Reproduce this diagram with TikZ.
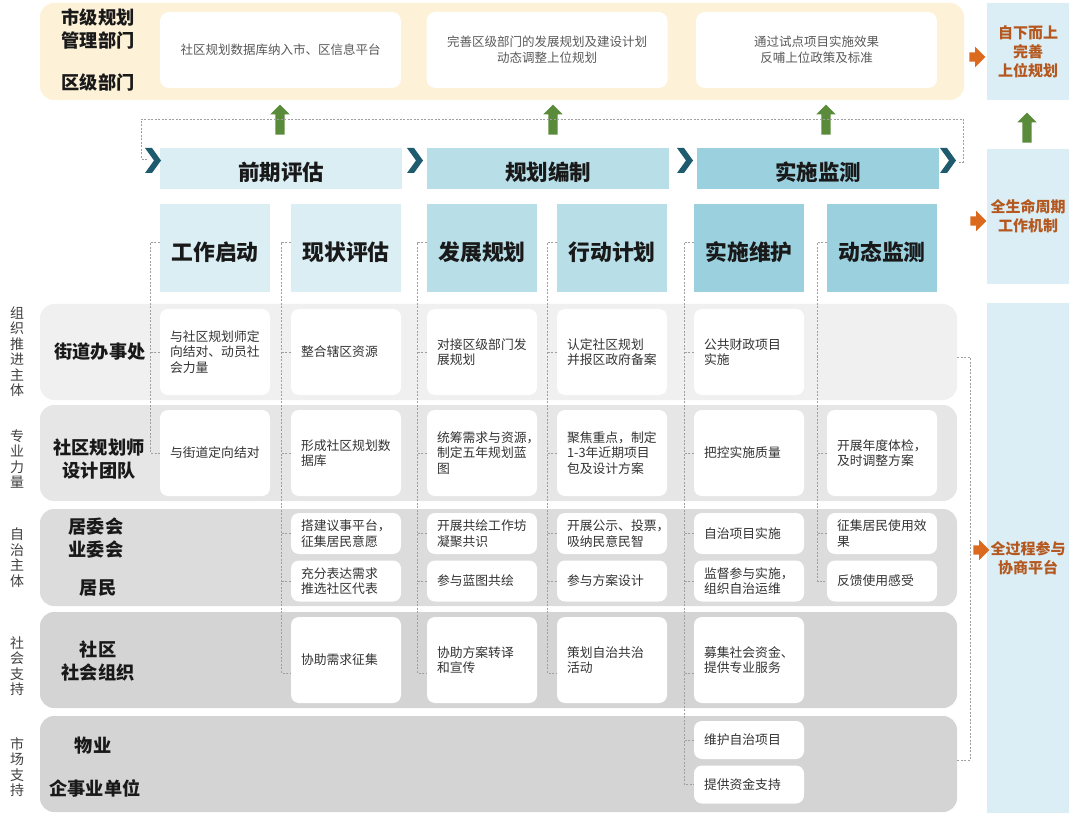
\documentclass[tikz,border=0pt]{standalone}
\usepackage{fontspec}
\setmainfont{Noto Sans CJK SC}
\usetikzlibrary{shapes.arrows}
\definecolor{yellowbg}{HTML}{FDF1D8}
\definecolor{blueA}{HTML}{DAEEF4}
\definecolor{blueB}{HTML}{B8DEE8}
\definecolor{blueC}{HTML}{9BD0DF}
\definecolor{sidebg}{HTML}{DCEEF5}
\definecolor{rowA}{HTML}{F0F0F0}
\definecolor{rowB}{HTML}{E6E6E6}
\definecolor{rowC}{HTML}{DCDCDC}
\definecolor{rowD}{HTML}{D4D4D4}
\definecolor{chev}{HTML}{1E5B6E}
\definecolor{leaf}{HTML}{5A8B3B}
\definecolor{amber}{HTML}{DB6A1F}
\definecolor{rust}{HTML}{B4581F}
\begin{document}
\begin{tikzpicture}[x=1pt,y=-1pt]
        \tikzset{cell/.style = {fill=white, rounded corners=8pt, minimum height=86pt, inner xsep=10pt, text width=90pt, align=left, font=\fontsize{12.8}{15.5}\selectfont, text=black!80}};
        \tikzset{half/.style = {cell, minimum height=41pt}};
        \tikzset{topbox/.style = {fill=white, rounded corners=9pt, minimum width=241pt, minimum height=76pt, align=center, font=\fontsize{12.5}{16}\selectfont, text=black!65}};
        \tikzset{phase/.style = {minimum width=242pt, minimum height=41pt, text height=27pt, text depth=2pt, font=\fontsize{21.5}{24}\selectfont\bfseries, text=black!90}};
        \tikzset{stage/.style = {minimum width=110pt, minimum height=88pt, text height=27pt, text depth=2pt, font=\fontsize{21.8}{24}\selectfont\bfseries, text=black!90}};
        \tikzset{band/.style = {rounded corners=14pt, minimum width=917pt, minimum height=96pt}};
        \tikzset{lead/.style = {align=center, font=\fontsize{18.2}{23}\selectfont\bfseries, text=black!90}};
        \tikzset{tag/.style = {align=center, font=\fontsize{14}{15.5}\selectfont, text=black!75}};
        \tikzset{side/.style = {fill=sidebg, minimum width=82pt, align=center, font=\fontsize{15}{19}\selectfont\bfseries, text=rust}};
        \tikzset{lift/.style = {single arrow, fill=leaf, rotate=90, inner sep=4.5pt, minimum height=30pt, single arrow head extend=5pt}};
        \tikzset{push/.style = {single arrow, fill=amber, inner sep=4.5pt, minimum height=16pt, single arrow head extend=5.5pt}};
        \tikzset{guide/.style = {draw=gray!75, dash pattern=on 2pt off 1.5pt, line width=0.7pt}};
        \useasboundingbox (0,0) rectangle (1080,813);
        \node[fill=yellowbg, rounded corners=14pt, minimum width=924pt, minimum height=97pt] (upper) at (502,51.5) {};
        \node[lead] (city) at (98,28.5) {市级规划\\管理部门};
        \node[lead] (district) at (98,83) {区级部门};
        \node[topbox] (feed1) at (280.5,50) {社区规划数据库纳入市、区信息平台};
        \node[topbox] (feed2) at (547,50) {完善区级部门的发展规划及建设计划\\动态调整上位规划};
        \node[topbox] (feed3) at (816.5,50) {通过试点项目实施效果\\反哺上位政策及标准};
        \node[side, minimum height=97pt] (goal1) at (1028,51.5) {自下而上\\完善\\上位规划};
        \node[side, minimum height=135pt] (goal2) at (1028,216.5) {全生命周期\\工作机制};
        \node[side, minimum height=510pt] (goal3) at (1028,558) {全过程参与\\协商平台};
        \node[push] (to1) at (975,57) {};
        \node[push] (to2) at (976,221) {};
        \node[push] (to3) at (979,550) {};
        \node[lift] (up1) at (280,122) {};
        \node[lift] (up2) at (553,122) {};
        \node[lift] (up3) at (826,122) {};
        \node[lift] (up4) at (1027,130) {};
        \node[phase, fill=blueA] (pre) at (281,168.5) {前期评估};
        \node[phase, fill=blueB] (plan) at (548,168.5) {规划编制};
        \node[phase, fill=blueC] (impl) at (818,168.5) {实施监测};
        \fill[chev] (145,148) -- (152,148) -- (161,160.5) -- (152,173) -- (145,173) -- (154,160.5) -- cycle;
        \fill[chev] (407,148) -- (414,148) -- (423,160.5) -- (414,173) -- (407,173) -- (416,160.5) -- cycle;
        \fill[chev] (677,148) -- (684,148) -- (693,160.5) -- (684,173) -- (677,173) -- (686,160.5) -- cycle;
        \fill[chev] (940,148) -- (947,148) -- (956,160.5) -- (947,173) -- (940,173) -- (949,160.5) -- cycle;
        \coordinate (loopL) at (147,159);
        \coordinate (loopR) at (958,162);
        \draw[guide] (loopL) -| (141,119) -| (963,162) -- (loopR);
        \node[stage, fill=blueA] (w1) at (215,248) {工作启动};
        \node[stage, fill=blueA] (w2) at (346,248) {现状评估};
        \node[stage, fill=blueB] (w3) at (482,248) {发展规划};
        \node[stage, fill=blueB] (w4) at (612,248) {行动计划};
        \node[stage, fill=blueC] (w5) at (749,248) {实施维护};
        \node[stage, fill=blueC] (w6) at (882,248) {动态监测};
        \node[band, fill=rowA] (row1) at (498.5,352) {};
        \node[band, fill=rowB] (row2) at (498.5,453) {};
        \node[band, fill=rowC, minimum height=97pt] (row3) at (498.5,557.5) {};
        \node[band, fill=rowD] (row4) at (498.5,660) {};
        \node[band, fill=rowD] (row5) at (498.5,764) {};
        \node[tag] (t1) at (17,351.5) {组\\织\\推\\进\\主\\体};
        \node[tag] (t2) at (17,459) {专\\业\\力\\量};
        \node[tag] (t3) at (17,557.5) {自\\治\\主\\体};
        \node[tag] (t4) at (17,666) {社\\会\\支\\持};
        \node[tag] (t5) at (17,767) {市\\场\\支\\持};
        \node[lead] (street) at (100,352) {街道办事处};
        \node[lead] (planner) at (99,459) {社区规划师\\设计团队};
        \node[lead] (committee) at (96,538.5) {居委会\\业委会};
        \node[lead] (resident) at (98,588) {居民};
        \node[lead] (social) at (98,661) {社区\\社会组织};
        \node[lead] (estate) at (93,746) {物业};
        \node[lead] (firm) at (95,788) {企事业单位};
        \node[cell] (a1) at (215,352) {与社区规划师定\\向结对、动员社\\会力量};
        \node[cell] (a2) at (346,352) {整合辖区资源};
        \node[cell] (a3) at (482,352) {对接区级部门发\\展规划};
        \node[cell] (a4) at (612,352) {认定社区规划\\并报区政府备案};
        \node[cell] (a5) at (749,352) {公共财政项目\\实施};
        \node[cell] (b1) at (215,453) {与街道定向结对};
        \node[cell] (b2) at (346,453) {形成社区规划数\\据库};
        \node[cell] (b3) at (482,453) {统筹需求与资源，\\制定五年规划蓝\\图};
        \node[cell] (b4) at (612,453) {聚焦重点，制定\\1-3年近期项目\\包及设计方案};
        \node[cell] (b5) at (749,453) {把控实施质量};
        \node[cell] (b6) at (882,453) {开展年度体检，\\及时调整方案};
        \node[half] (c2) at (346,533.5) {搭建议事平台，\\征集居民意愿};
        \node[half] (d2) at (346,581) {充分表达需求\\推选社区代表};
        \node[half] (c3) at (482,533.5) {开展共绘工作坊\\凝聚共识};
        \node[half] (d3) at (482,581) {参与蓝图共绘};
        \node[half] (c4) at (612,533.5) {开展公示、投票，\\吸纳民意民智};
        \node[half] (d4) at (612,581) {参与方案设计};
        \node[half] (c5) at (749,533.5) {自治项目实施};
        \node[half] (d5) at (749,581) {监督参与实施，\\组织自治运维};
        \node[half] (c6) at (882,533.5) {征集居民使用效\\果};
        \node[half] (d6) at (882,581) {反馈使用感受};
        \node[cell] (e2) at (346,660) {协助需求征集};
        \node[cell] (e3) at (482,660) {协助方案转译\\和宣传};
        \node[cell] (e4) at (612,660) {策划自治共治\\活动};
        \node[cell] (e5) at (749,660) {募集社会资金、\\提供专业服务};
        \node[half, minimum height=38pt] (f5) at (749,740) {维护自治项目};
        \node[half, minimum height=38pt] (g5) at (749,784.5) {提供资金支持};
        \draw[guide] ([yshift=6pt]w1.west) -- ++(-9,0) |- (b1.west);
        \draw[guide] (a1.west) -- ++(-9,0);
        \draw[guide] ([yshift=6pt]w2.west) -- ++(-9,0) |- ([yshift=-13pt]e2.west);
        \draw[guide] (a2.west) -- ++(-9,0) (b2.west) -- ++(-9,0) (c2.west) -- ++(-9,0) (d2.west) -- ++(-9,0);
        \draw[guide] ([yshift=6pt]w3.west) -- ++(-9,0) |- ([yshift=-13pt]e3.west);
        \draw[guide] (a3.west) -- ++(-9,0) (b3.west) -- ++(-9,0) (c3.west) -- ++(-9,0) (d3.west) -- ++(-9,0);
        \draw[guide] ([yshift=6pt]w4.west) -- ++(-9,0) |- ([yshift=-13pt]e4.west);
        \draw[guide] (a4.west) -- ++(-9,0) (b4.west) -- ++(-9,0) (c4.west) -- ++(-9,0) (d4.west) -- ++(-9,0);
        \draw[guide] ([yshift=6pt]w5.west) -- ++(-9,0) |- (g5.west);
        \draw[guide] (a5.west) -- ++(-9,0) (b5.west) -- ++(-9,0) (c5.west) -- ++(-9,0) (d5.west) -- ++(-9,0);
        \draw[guide] ([yshift=-13pt]e5.west) -- ++(-9,0) (f5.west) -- ++(-9,0);
        \draw[guide] ([yshift=6pt]w6.west) -- ++(-9,0) |- (d6.west);
        \draw[guide] (b6.west) -- ++(-9,0) (c6.west) -- ++(-9,0);
        \draw[guide] ([yshift=-5pt]row1.east) -- ++(13,0) |- ([yshift=4pt]row5.east);
    \end{tikzpicture}
\end{document}
